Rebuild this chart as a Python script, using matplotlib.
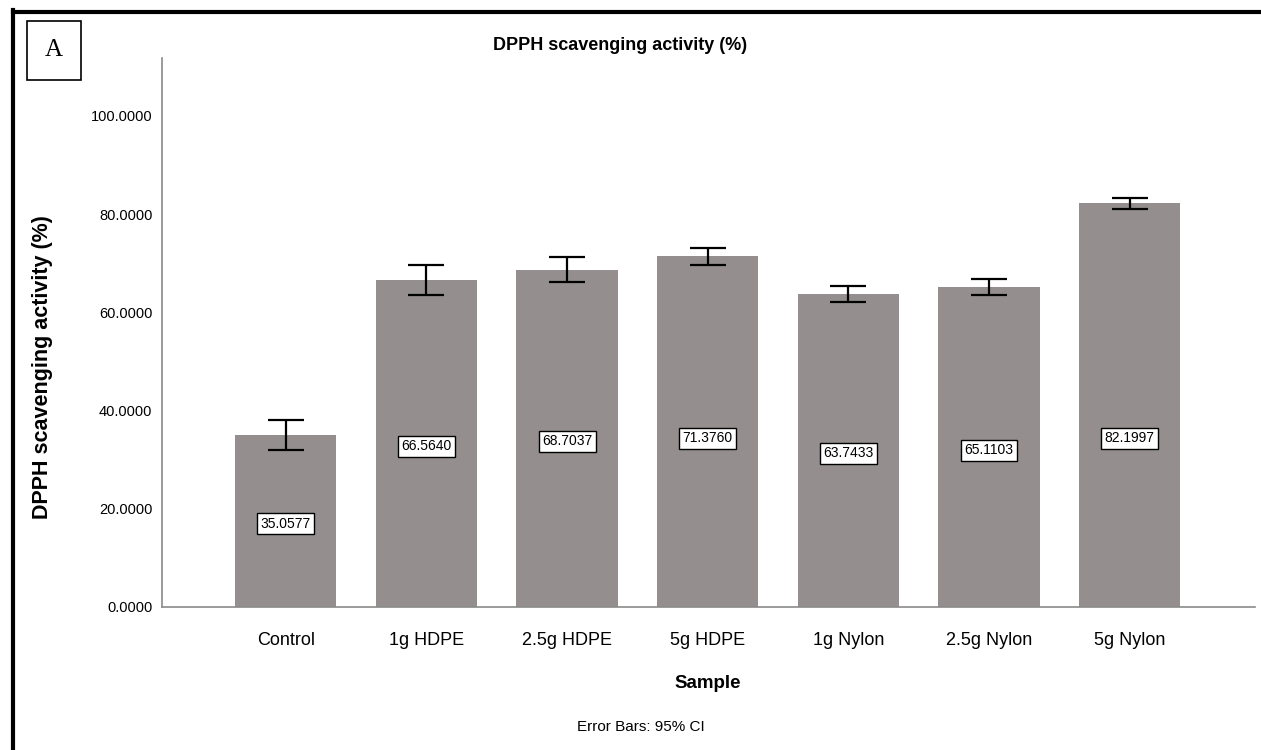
import matplotlib.pyplot as plt
from matplotlib.lines import Line2D
from matplotlib.patches import Rectangle

plt.rcParams['font.family'] = ['Liberation Sans', 'DejaVu Sans']

samples = ['Control', '1g HDPE', '2.5g HDPE', '5g HDPE', '1g Nylon', '2.5g Nylon', '5g Nylon']
means = [35.0577, 66.5640, 68.7037, 71.3760, 63.7433, 65.1103, 82.1997]
ci95 = [3.0, 3.0, 2.5, 1.7, 1.7, 1.65, 1.1]
yticks = [0, 20, 40, 60, 80, 100]

fig = plt.figure(figsize=(12.61, 7.5), dpi=100)
ax = fig.add_axes([0.1285, 0.1907, 0.8667, 0.732])

x = list(range(len(samples)))
ax.bar(x, means, width=0.72, color='#948f8e', zorder=2)
ax.errorbar(x, means, yerr=ci95, fmt='none', ecolor='black', elinewidth=1.6,
            capsize=13, capthick=1.6, zorder=3)

for xi, m in zip(x, means):
    ax.text(xi, min(m / 2, 35) - 0.6, f'{m:.4f}', ha='center', va='center', fontsize=10,
            bbox=dict(boxstyle='square,pad=0.25', fc='white', ec='black', lw=1), zorder=4)

ax.set_xlim(-0.88, 6.89)
ax.set_ylim(0, 111.8)
ax.set_yticks(yticks)
ax.set_yticklabels([f'{v:.4f}' for v in yticks])
ax.set_xticks(x)
ax.set_xticklabels(samples)
ax.tick_params(axis='y', length=0, pad=7, labelsize=10.5)
ax.tick_params(axis='x', length=0, pad=18, labelsize=13)
for s in ['top', 'right']:
    ax.spines[s].set_visible(False)
for s in ['left', 'bottom']:
    ax.spines[s].set_color('#8a8a8a')
    ax.spines[s].set_linewidth(1.2)

fig.text(0.492, 0.94, 'DPPH scavenging activity (%)', ha='center', va='center',
         fontsize=13, fontweight='bold')
fig.text(0.034, 0.51, 'DPPH scavenging activity (%)', ha='center', va='center',
         rotation=90, fontsize=15.5, fontweight='bold')
fig.text(0.561, 0.088, 'Sample', ha='center', va='center', fontsize=13.5, fontweight='bold')
fig.text(0.508, 0.031, 'Error Bars: 95% CI', ha='center', va='center', fontsize=11)

# outer frame (top and left only, image is cropped)
W, H = 1261, 750
fig.add_artist(Line2D([12.5 / W, 1], [1 - 11.5 / H, 1 - 11.5 / H], color='black', lw=3))
fig.add_artist(Line2D([12.5 / W, 12.5 / W], [0, 1 - 10 / H], color='black', lw=3))

# panel letter box
fig.add_artist(Rectangle((27 / W, 1 - 80 / H), 54 / W, 59 / H, fill=False,
                         ec='black', lw=1.2))
fig.text(54 / W, 1 - 50.5 / H, 'A', ha='center', va='center', fontsize=18,
         family='Liberation Serif')

fig.savefig('out.png', dpi=100)
